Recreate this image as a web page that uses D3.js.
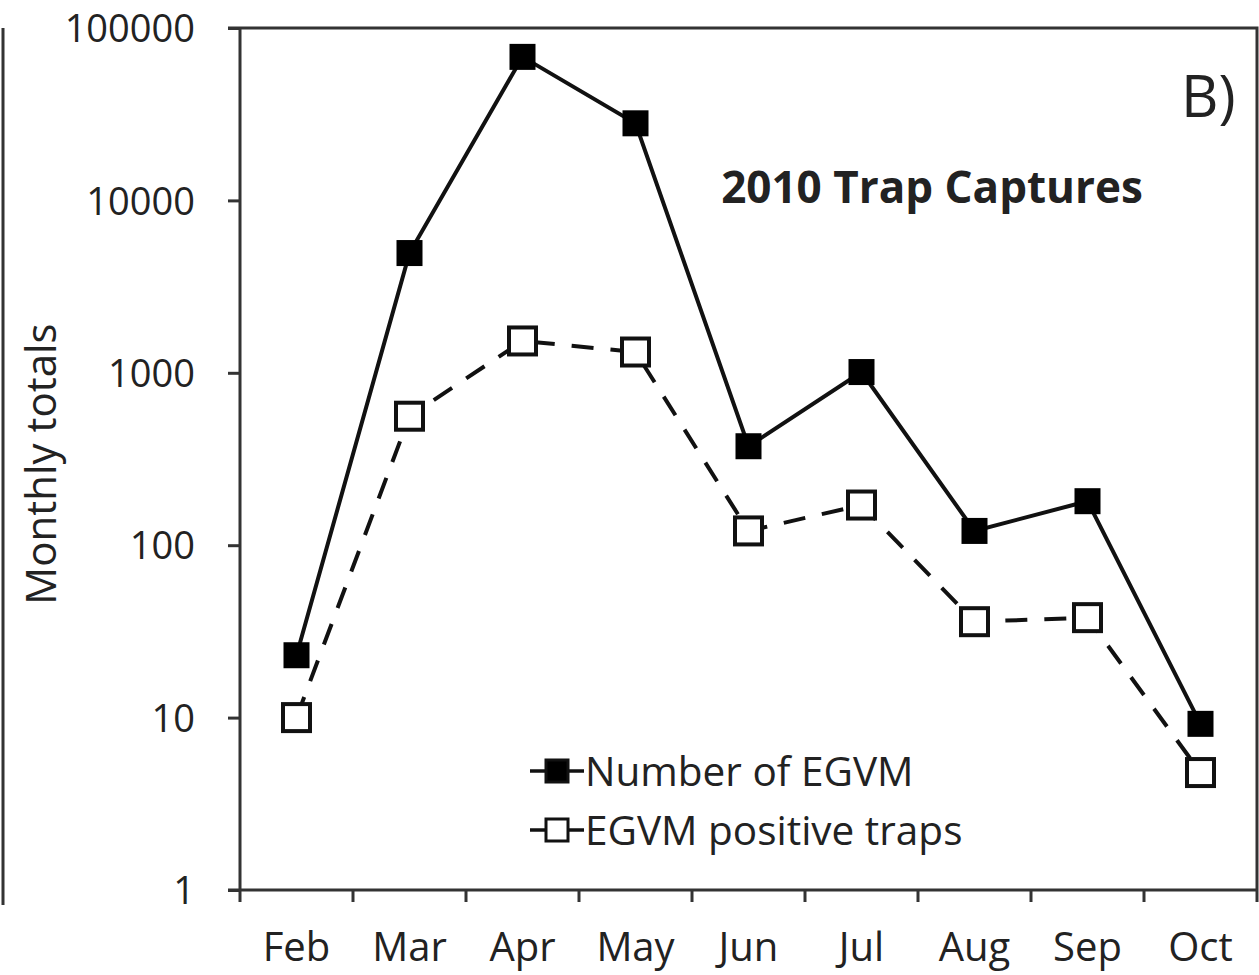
<!DOCTYPE html>
<html>
<head>
<meta charset="utf-8">
<script src="https://cdn.jsdelivr.net/npm/d3@7"></script>
<style>
  body { margin: 0; background: #fff; }
  svg { display: block; }
  text { font-family: "Open Sans", sans-serif; fill: #222; }
</style>
</head>
<body>
<div id="chart"></div>
<script>
// data
var months = ["Feb", "Mar", "Apr", "May", "Jun", "Jul", "Aug", "Sep", "Oct"];
var egvmCount = [23, 4950, 68000, 28000, 375, 1010, 121, 180, 9.2];
var positiveTraps = [10, 560, 1530, 1320, 121, 171, 36, 38, 4.8];
var yTicks = [1, 10, 100, 1000, 10000, 100000];

var width = 1259, height = 975;
var plotLeft = 240, plotRight = 1257, plotTop = 28, plotBottom = 890;

var svg = d3.select("#chart").append("svg")
    .attr("width", width)
    .attr("height", height);

var x = d3.scaleBand().domain(months).range([plotLeft, plotRight]);
var y = d3.scaleLog().domain([1, 100000]).range([plotBottom, plotTop]);

// left edge of the neighbouring panel
svg.append("line")
    .attr("x1", 3).attr("x2", 3)
    .attr("y1", plotTop).attr("y2", 905)
    .attr("stroke", "#333").attr("stroke-width", 3);

// frame top + right
svg.append("path")
    .attr("d", "M" + (plotLeft - 12) + "," + plotTop + "H" + plotRight + "V" + plotBottom)
    .attr("fill", "none")
    .attr("stroke", "#333")
    .attr("stroke-width", 3);

// y axis
var yAxis = svg.append("g")
    .attr("transform", "translate(" + plotLeft + ",0)")
    .call(d3.axisLeft(y).tickValues(yTicks).tickFormat(d3.format("d")).tickSize(12).tickPadding(33));
yAxis.select(".domain").remove();
yAxis.selectAll(".tick line").attr("stroke", "#333").attr("stroke-width", 3);
yAxis.selectAll(".tick text").style("font-size", "38px").attr("fill", "#222").attr("dy", "0.36em");
yAxis.append("line")
    .attr("x1", 0).attr("x2", 0)
    .attr("y1", plotTop).attr("y2", plotBottom + 12)
    .attr("stroke", "#333").attr("stroke-width", 3);

// x axis: labels centred, ticks at band edges
var xAxis = svg.append("g")
    .attr("transform", "translate(0," + plotBottom + ")")
    .call(d3.axisBottom(x).tickSize(0).tickPadding(0));
xAxis.select(".domain").remove();
xAxis.selectAll(".tick text")
    .style("font-size", "40px")
    .attr("fill", "#222")
    .attr("y", 71)
    .attr("dy", 0);
xAxis.append("line")
    .attr("x1", plotLeft - 12).attr("x2", plotRight)
    .attr("y1", 0).attr("y2", 0)
    .attr("stroke", "#333").attr("stroke-width", 3);
var edges = months.slice(1).map(function(m) { return x(m); }).concat([plotRight]);
xAxis.selectAll(".edge")
    .data(edges)
    .enter()
    .append("line")
    .attr("class", "edge")
    .attr("x1", function(d) { return d; })
    .attr("x2", function(d) { return d; })
    .attr("y1", 0).attr("y2", 12)
    .attr("stroke", "#333").attr("stroke-width", 3);

// y title
svg.append("text")
    .attr("transform", "translate(56,464) rotate(-90)")
    .attr("text-anchor", "middle")
    .style("font-size", "42px")
    .text("Monthly totals");

// lines
var cx = function(d, i) { return x(months[i]) + x.bandwidth() / 2; };
var line = d3.line()
    .x(cx)
    .y(function(d) { return y(d); });

svg.append("path")
    .datum(positiveTraps)
    .attr("d", line)
    .attr("fill", "none")
    .attr("stroke", "#111")
    .attr("stroke-width", 4)
    .attr("stroke-dasharray", "22,17");

svg.append("path")
    .datum(egvmCount)
    .attr("d", line)
    .attr("fill", "none")
    .attr("stroke", "#111")
    .attr("stroke-width", 4);

var ms = 26, os = 27;
svg.selectAll(".filled")
    .data(egvmCount)
    .enter()
    .append("rect")
    .attr("class", "filled")
    .attr("x", function(d, i) { return cx(d, i) - ms / 2; })
    .attr("y", function(d) { return y(d) - ms / 2; })
    .attr("width", ms).attr("height", ms)
    .attr("fill", "#000");

svg.selectAll(".open")
    .data(positiveTraps)
    .enter()
    .append("rect")
    .attr("class", "open")
    .attr("x", function(d, i) { return cx(d, i) - os / 2; })
    .attr("y", function(d) { return y(d) - os / 2; })
    .attr("width", os).attr("height", os)
    .attr("fill", "#fff")
    .attr("stroke", "#111")
    .attr("stroke-width", 4);

// legend
var legend = [
    {name: "Number of EGVM", fill: "#000"},
    {name: "EGVM positive traps", fill: "#fff"}
];
var lg = svg.selectAll(".legend")
    .data(legend)
    .enter()
    .append("g")
    .attr("class", "legend")
    .attr("transform", function(d, i) { return "translate(530," + (771 + i * 59) + ")"; });
lg.append("line")
    .attr("x1", 0).attr("x2", 54)
    .attr("stroke", "#111").attr("stroke-width", 3.5);
lg.append("rect")
    .attr("x", 16).attr("y", -11)
    .attr("width", 22).attr("height", 22)
    .attr("fill", function(d) { return d.fill; })
    .attr("stroke", "#111").attr("stroke-width", 3);
lg.append("text")
    .attr("x", 55)
    .attr("dy", "0.36em")
    .style("font-size", "40.5px")
    .text(function(d) { return d.name; });

// titles
svg.append("text")
    .attr("x", 932).attr("y", 203)
    .attr("text-anchor", "middle")
    .style("font-size", "44px")
    .style("font-weight", "bold")
    .attr("fill", "#000")
    .text("2010 Trap Captures");

svg.append("text")
    .attr("x", 1181).attr("y", 117)
    .style("font-size", "58px")
    .text("B)");
</script>
</body>
</html>
